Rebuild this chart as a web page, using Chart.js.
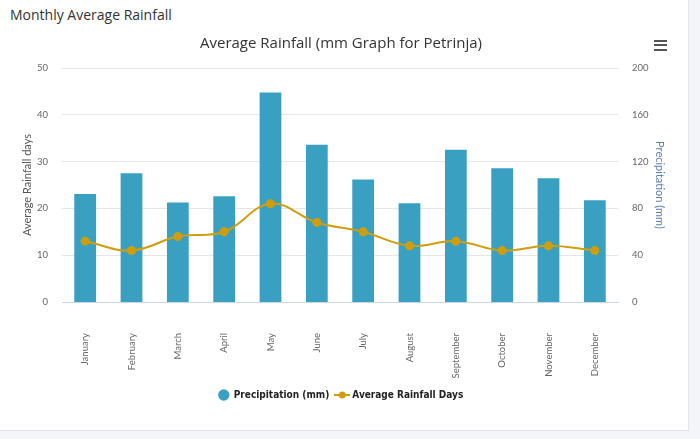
<!DOCTYPE html>
<html>
<head>
<meta charset="utf-8">
<script src="https://cdn.jsdelivr.net/npm/chart.js@4"></script>
<style>
  html, body { margin: 0; padding: 0; }
  body { width: 700px; height: 439px; background: #f4f5f8; font-family: 'Open Sans', sans-serif; overflow: hidden; }
  .card { position: absolute; left: 0; top: 0; width: 688px; height: 430px; background: #fff; border-right: 1px solid #e3e5ea; border-bottom: 1px solid #e3e5ea; }
  .card-title { position: absolute; left: 10px; top: 5px; font-size: 14px; color: #333; }
  .chart-box { position: absolute; left: 0; top: 28px; width: 688px; height: 400px; }
  .menu { position: absolute; left: 654px; top: 40px; width: 13px; }
  .menu span { display: block; height: 2px; background: #555; margin-bottom: 2.3px; }
</style>
</head>
<body>
<div class="card">
  <div class="card-title">Monthly Average Rainfall</div>
  <div class="chart-box"><canvas id="rainChart"></canvas></div>
  <div class="menu"><span></span><span></span><span></span></div>
</div>
<script>
const months = ['January', 'February', 'March', 'April', 'May', 'June', 'July', 'August', 'September', 'October', 'November', 'December'];
const precipitation = [92.4, 110, 85, 90.4, 179, 134.4, 104.7, 84.4, 130.1, 114.4, 105.8, 87];
const rainfallDays = [13, 11, 14, 15, 21, 17, 15, 12, 13, 11, 12, 11];

const barColor = '#3aa0c2';
const lineColor = '#d09e0c';

// legend icon for the line series: short line with a dot
function lineIcon() {
  const c = document.createElement('canvas');
  c.width = 16; c.height = 8;
  const g = c.getContext('2d');
  g.strokeStyle = lineColor; g.lineWidth = 2;
  g.beginPath(); g.moveTo(0, 4); g.lineTo(16, 4); g.stroke();
  g.fillStyle = lineColor;
  g.beginPath(); g.arc(8, 4, 3.5, 0, Math.PI * 2); g.fill();
  return c;
}

const tickFont = { family: 'Lato', size: 9.5 };

const ctx = document.getElementById('rainChart').getContext('2d');
new Chart(ctx, {
  data: {
    labels: months,
    datasets: [{
      type: 'bar',
      label: 'Precipitation (mm)',
      data: precipitation,
      backgroundColor: barColor,
      yAxisID: 'y1',
      categoryPercentage: 1,
      barPercentage: 0.47,
      order: 2
    }, {
      type: 'line',
      label: 'Average Rainfall Days',
      data: rainfallDays,
      borderColor: lineColor,
      backgroundColor: lineColor,
      borderWidth: 2,
      pointRadius: 3.5,
      tension: 0.4,
      yAxisID: 'y',
      order: 1,
      pointStyle: 'circle'
    }]
  },
  options: {
    responsive: true,
    maintainAspectRatio: false,
    animation: false,
    layout: { padding: { left: 16, right: 22, bottom: 18 } },
    plugins: {
      title: {
        display: true,
        text: 'Average Rainfall (mm Graph for Petrinja)',
        color: '#333',
        font: { family: 'Open Sans', size: 15, weight: 'normal' },
        padding: { top: 7, bottom: 15 }
      },
      legend: {
        position: 'bottom',
        labels: {
          usePointStyle: true,
          boxHeight: 8,
          padding: 8,
          color: '#222',
          font: { family: 'DejaVu Sans Condensed', size: 10, weight: 'bold' },
          generateLabels(chart) {
            const items = Chart.defaults.plugins.legend.labels.generateLabels(chart);
            items.sort((a, b) => a.datasetIndex - b.datasetIndex);
            items.forEach(it => {
              if (it.datasetIndex === 1) it.pointStyle = lineIcon();
              else it.pointStyle = 'circle';
            });
            return items;
          }
        }
      },
      tooltip: { enabled: false }
    },
    scales: {
      x: {
        afterFit(scale) { scale.height = 80; },
        grid: { display: false },
        border: { color: '#ccd6eb' },
        ticks: {
          minRotation: 90,
          maxRotation: 90,
          padding: 23,
          color: '#666',
          font: tickFont
        }
      },
      y: {
        position: 'left',
        min: 0,
        max: 50,
        afterFit(scale) { scale.width = 46; },
        ticks: { stepSize: 10, padding: 14, color: '#666', font: tickFont },
        grid: { color: '#e6e6e6', drawTicks: false },
        border: { display: false },
        title: { display: true, text: 'Average Rainfall days', color: '#555', font: { family: 'Lato', size: 11 }, padding: { top: 5, bottom: 0 } }
      },
      y1: {
        position: 'right',
        min: 0,
        max: 200,
        afterFit(scale) { scale.width = 48; },
        ticks: { stepSize: 40, padding: 14, color: '#666', font: tickFont },
        grid: { display: false, drawTicks: false },
        border: { display: false },
        title: { display: true, text: 'Precipitation (mm)', color: '#5b7fb5', font: { family: 'Lato', size: 11 }, padding: { top: 0, bottom: 0 } }
      }
    }
  }
});
</script>
</body>
</html>
